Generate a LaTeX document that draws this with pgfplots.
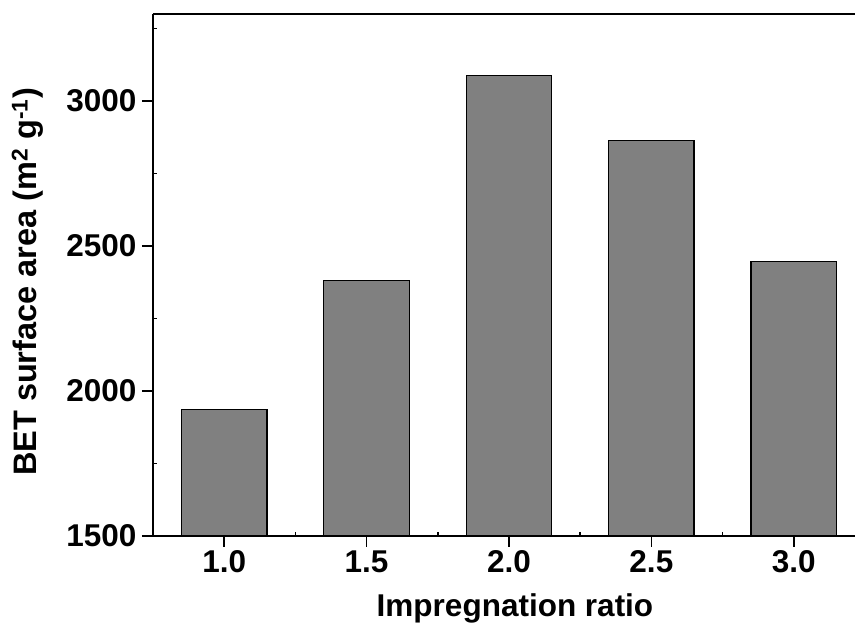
\documentclass[border=0pt]{standalone}
\usepackage{fontspec}
\setmainfont{Liberation Sans}
\usepackage{pgfplots}
\pgfplotsset{compat=1.18}
\begin{document}
\begin{tikzpicture}
\begin{axis}[
  scale only axis,
  width=702pt, height=522pt,
  xmin=0.75, xmax=3.215,
  ymin=1500, ymax=3300,
  axis x line*=box,
  axis y line*=left,
  axis line style={line width=1.7pt},
  xtick={1,1.5,2,2.5,3},
  xticklabels={1.0,1.5,2.0,2.5,3.0},
  ytick={1500,2000,2500,3000},
  yticklabels={1500,2000,2500,3000},
  minor xtick={1.25,1.75,2.25,2.75},
  minor ytick={1750,2250,2750,3250},
  xtick pos=bottom,
  tick align=outside,
  major tick length=11pt,
  minor tick length=-4pt,
  every tick/.style={black, line width=1.5pt},
  tick label style={font=\fontsize{31.5}{36}\selectfont\bfseries},
  label style={font=\fontsize{31.5}{36}\selectfont\bfseries},
  yticklabel style={xshift=-2pt},
  xlabel={Impregnation ratio},
  ylabel={BET surface area (m\textsuperscript{2} g\textsuperscript{-1})},
  xlabel style={yshift=-14pt, xshift=11pt},
  ylabel style={yshift=16pt, xshift=-7pt, font=\fontsize{32.5}{36}\selectfont\bfseries},
  ybar,
  bar width=0.3,
]
\addplot[fill={rgb,255:red,128;green,128;blue,128}, draw=black, line width=1.2pt]
  coordinates {(1.0,1935) (1.5,2382) (2.0,3087) (2.5,2864) (3.0,2447)};
\end{axis}
\pgfresetboundingbox
\path[use as bounding box] ([shift={(-153pt,-90pt)}]current axis.south west) rectangle ([shift={(0pt,14pt)}]current axis.north east);
\end{tikzpicture}
\end{document}
